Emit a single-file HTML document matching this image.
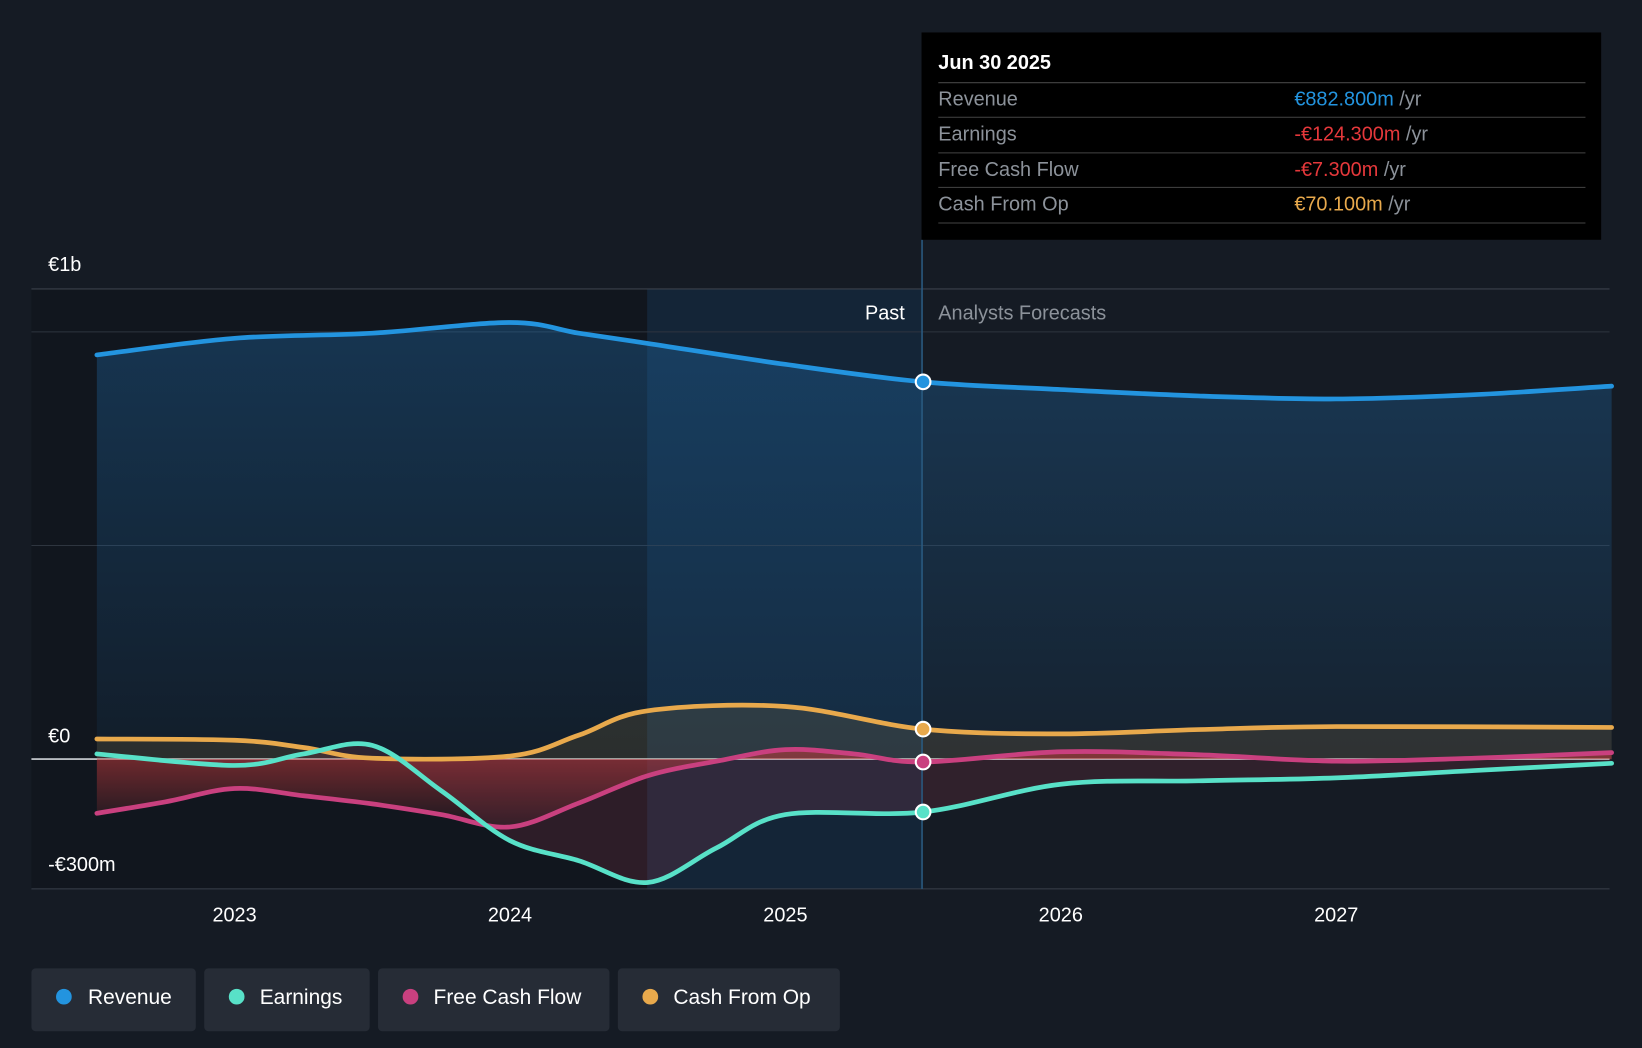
<!DOCTYPE html>
<html><head><meta charset="utf-8"><style>
html,body{margin:0;padding:0;background:#151b24;}
svg{display:block;font-family:"Liberation Sans",Arial,sans-serif;}
</style></head><body>
<svg id="chart" width="1642" height="1048" viewBox="0 0 1568 1001" preserveAspectRatio="none" xmlns="http://www.w3.org/2000/svg">
<defs>
<linearGradient id="revGrad" x1="0" y1="0" x2="0" y2="1"><stop offset="0" stop-color="#1f6fb0" stop-opacity="0.35"/><stop offset="1" stop-color="#1f6fb0" stop-opacity="0.08"/></linearGradient>
<linearGradient id="negGrad" x1="0" y1="0" x2="0" y2="1"><stop offset="0" stop-color="#c0393b" stop-opacity="0.6"/><stop offset="1" stop-color="#c0393b" stop-opacity="0.05"/></linearGradient>
</defs>
<rect x="0" y="0" width="1568" height="1001" fill="#151b24"/>
<rect x="30" y="276" width="588" height="573" fill="#11161e"/>
<rect x="618" y="276" width="262" height="573" fill="#14324f" opacity="0.45"/>
<g id="grid"></g>
<g id="areas"></g>
<g id="lines"></g>
<line x1="880.5" y1="229" x2="880.5" y2="849" stroke="#2a5a80" stroke-width="1.5"/>
<text x="864" y="305" fill="#fff" font-size="19" text-anchor="end">Past</text>
<text x="896" y="305" fill="#8c929a" font-size="19">Analysts Forecasts</text>
<text x="46" y="259" fill="#fff" font-size="19">€1b</text>
<text x="46" y="709" fill="#fff" font-size="19">€0</text>
<text x="46" y="832" fill="#fff" font-size="19">-€300m</text>
<g id="xticks"></g>
<g id="dots"></g>
<g>
<rect x="880" y="31" width="649" height="198" fill="#000"/>
<text x="896" y="66" fill="#fff" font-size="19" font-weight="bold">Jun 30 2025</text>
<line x1="896" y1="79" x2="1514" y2="79" stroke="#444"/>
<text x="896" y="101" fill="#8c929a" font-size="19">Revenue</text>
<text x="1236" y="101" font-size="19"><tspan fill="#2394df">€882.800m</tspan><tspan fill="#8c929a"> /yr</tspan></text>
<line x1="896" y1="112" x2="1514" y2="112" stroke="#444"/>
<text x="896" y="134" fill="#8c929a" font-size="19">Earnings</text>
<text x="1236" y="134" font-size="19"><tspan fill="#e5383b">-€124.300m</tspan><tspan fill="#8c929a"> /yr</tspan></text>
<line x1="896" y1="146" x2="1514" y2="146" stroke="#444"/>
<text x="896" y="168" fill="#8c929a" font-size="19">Free Cash Flow</text>
<text x="1236" y="168" font-size="19"><tspan fill="#e5383b">-€7.300m</tspan><tspan fill="#8c929a"> /yr</tspan></text>
<line x1="896" y1="179" x2="1514" y2="179" stroke="#444"/>
<text x="896" y="201" fill="#8c929a" font-size="19">Cash From Op</text>
<text x="1236" y="201" font-size="19"><tspan fill="#e8a94c">€70.100m</tspan><tspan fill="#8c929a"> /yr</tspan></text>
<line x1="896" y1="213" x2="1514" y2="213" stroke="#444"/>
</g>
<g>
<g><rect x="30" y="925" width="157" height="60" rx="4" fill="#262c36"/><circle cx="61" cy="952" r="7.5" fill="#2394df"/><text x="84" y="959" fill="#fff" font-size="20">Revenue</text></g>
<g><rect x="195" y="925" width="158" height="60" rx="4" fill="#262c36"/><circle cx="226" cy="952" r="7.5" fill="#58e1c8"/><text x="248" y="959" fill="#fff" font-size="20">Earnings</text></g>
<g><rect x="361" y="925" width="221" height="60" rx="4" fill="#262c36"/><circle cx="392" cy="952" r="7.5" fill="#c9407f"/><text x="414" y="959" fill="#fff" font-size="20">Free Cash Flow</text></g>
<g><rect x="590" y="925" width="212" height="60" rx="4" fill="#262c36"/><circle cx="621" cy="952" r="7.5" fill="#e8a94c"/><text x="643" y="959" fill="#fff" font-size="20">Cash From Op</text></g>
</g>
</svg>
<script>
const xTickYears = [2023, 2024, 2025, 2026, 2027];
const revT = [2022.5, 2023, 2023.5, 2024, 2024.25, 2024.5, 2025, 2025.5, 2026, 2026.5, 2027, 2027.5, 2028];
const revV = [946, 985, 997, 1022, 997, 973, 924, 883, 865, 850, 843, 853, 873];
const earnT = [2022.5, 2023, 2023.25, 2023.5, 2023.75, 2024, 2024.25, 2024.5, 2024.75, 2025, 2025.5, 2026, 2026.5, 2027, 2027.5, 2028];
const earnV = [12, -15, 12, 32, -74, -191, -238, -289, -208, -130, -124, -59, -51, -44, -27, -10];
const fcfT = [2022.5, 2022.75, 2023, 2023.25, 2023.5, 2023.75, 2024, 2024.25, 2024.5, 2024.75, 2025, 2025.25, 2025.5, 2026, 2026.5, 2027, 2027.5, 2028];
const fcfV = [-127, -100, -69, -86, -105, -130, -159, -103, -39, -5, 22, 12, -7, 17, 10, -5, 2, 15];
const cfoT = [2022.5, 2023, 2023.25, 2023.5, 2024, 2024.25, 2024.5, 2025, 2025.5, 2026, 2026.5, 2027, 2028];
const cfoV = [47, 44, 27, 2, 7, 56, 113, 123, 70, 59, 69, 76, 74];
const gridVals = [1000, 500, 0];
const pastEnd = 2025.5;

const NS = 'http://www.w3.org/2000/svg';
const X = t => 224 + (t - 2023) * 263;
const Y = v => 725 - v * 0.408;
function mk(tag, attrs, parent){const e=document.createElementNS(NS,tag);for(const k in attrs)e.setAttribute(k,attrs[k]);parent.appendChild(e);return e;}
function pathD(T,V){
  const p=T.map((t,i)=>[X(t),Y(V[i])]);
  let d='M'+p[0][0]+','+p[0][1];
  for(let i=0;i<p.length-1;i++){
    const p0=p[i-1]||p[i],p1=p[i],p2=p[i+1],p3=p[i+2]||p2;
    const c1=[p1[0]+(p2[0]-p0[0])/6,p1[1]+(p2[1]-p0[1])/6];
    const c2=[p2[0]-(p3[0]-p1[0])/6,p2[1]-(p3[1]-p1[1])/6];
    d+=' C'+c1[0]+','+c1[1]+' '+c2[0]+','+c2[1]+' '+p2[0]+','+p2[1];
  }
  return d;
}
function areaD(T,V){return pathD(T,V)+' L'+X(T[T.length-1])+','+Y(0)+' L'+X(T[0])+','+Y(0)+' Z';}
const grid=document.getElementById('grid');
let gl=mk('line',{x1:30,x2:1537,y1:276,y2:276,stroke:'#3a414b','stroke-width':1},grid);

gridVals.forEach(v=>{const l=mk('line',{x1:30,x2:1537,y1:Y(v),y2:Y(v),stroke:v===0?'#d0d4d8':'#2e353f','stroke-width':v===0?1.5:1},grid);

});
const bl=mk('line',{x1:30,x2:1537,y1:849,y2:849,stroke:'#3a414b','stroke-width':1},grid);

const xt=document.getElementById('xticks');
xTickYears.forEach(y=>{const t=mk('text',{x:X(y),y:880,fill:'#fff','font-size':19,'text-anchor':'middle'},xt);t.textContent=y;

});
const areas=document.getElementById('areas'),lines=document.getElementById('lines'),dots=document.getElementById('dots');
const series=[
 {n:'revenue',T:revT,V:revV,c:'#2394df',f:'url(#revGrad)'},
 {n:'cash-from-op',T:cfoT,V:cfoV,c:'#e8a94c',f:'rgba(232,169,76,0.12)'},
 {n:'free-cash-flow',T:fcfT,V:fcfV,c:'#c9407f',f:'url(#negGrad)'},
 {n:'earnings',T:earnT,V:earnV,c:'#58e1c8',f:'rgba(160,60,80,0.2)'}
];
series.forEach(s=>{
 const a=mk('path',{d:areaD(s.T,s.V),fill:s.f},areas);
 
 
 const l=mk('path',{d:pathD(s.T,s.V),fill:'none',stroke:s.c,'stroke-width':4.5,'stroke-linecap':'round'},lines);
 
 
 const i=s.T.indexOf(pastEnd);
 if(i>=0){const c=mk('circle',{cx:X(pastEnd),cy:Y(s.V[i]),r:7,fill:s.c,stroke:'#fff','stroke-width':2},dots);
 
 }
});
</script>
</body></html>
